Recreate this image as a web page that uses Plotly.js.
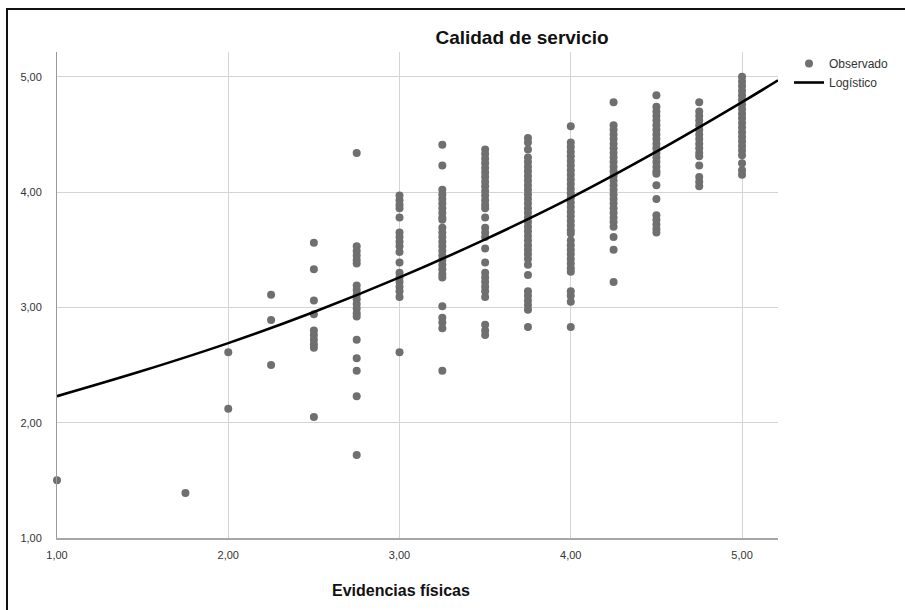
<!DOCTYPE html>
<html>
<head>
<meta charset="utf-8">
<script src="https://cdn.plot.ly/plotly-3.0.1.min.js"></script>
<style>
  html, body { margin: 0; padding: 0; background: #fff; overflow: hidden; }
  #wrap { position: relative; width: 905px; height: 610px; overflow: hidden; }
  #chart { position: absolute; left: 0; top: 0; width: 905px; height: 610px; }
  #frame { position: absolute; left: 6px; top: 8px; width: 1000px; height: 700px;
           border-left: 2px solid #111; border-top: 2px solid #111; pointer-events: none; }
</style>
</head>
<body>
<div id="wrap">
  <div id="chart"></div>
  <div id="frame"></div>
</div>
<script>
// Observed data: x columns (Evidencias físicas) and y values (Calidad de servicio)
const colX = [1.00, 1.75, 2.00, 2.25, 2.50, 2.75, 3.00, 3.25, 3.50, 3.75, 4.00, 4.25, 4.50, 4.75, 5.00];
const y100 = [1.50];
const y175 = [1.39];
const y200 = [2.61, 2.12];
const y225 = [3.11, 2.89, 2.50];
const y250 = [3.56, 3.33, 3.06, 2.94, 2.80, 2.76, 2.72, 2.68, 2.65, 2.05];
const y275 = [4.34, 3.53, 3.49, 3.45, 3.41, 3.38, 3.19, 3.15, 3.11, 3.07, 3.03, 2.99, 2.95, 2.92, 2.72, 2.56, 2.45, 2.23, 1.72];
const y300 = [3.97, 3.93, 3.89, 3.86, 3.78, 3.65, 3.61, 3.57, 3.53, 3.48, 3.39, 3.30, 3.26, 3.22, 3.18, 3.14, 3.09, 2.61];
const y325 = [4.41, 4.23, 4.02, 3.98, 3.94, 3.90, 3.86, 3.82, 3.78, 3.76, 3.69, 3.65, 3.61, 3.57, 3.53, 3.49, 3.45, 3.41, 3.37, 3.33, 3.29, 3.26, 3.01, 2.91, 2.87, 2.82, 2.45];
const y350 = [4.37, 4.33, 4.29, 4.25, 4.21, 4.17, 4.13, 4.09, 4.05, 4.01, 3.97, 3.93, 3.89, 3.86, 3.78, 3.69, 3.65, 3.61, 3.51, 3.39, 3.30, 3.26, 3.22, 3.18, 3.14, 3.09, 2.85, 2.80, 2.76];
const y375 = [4.47, 4.43, 4.37, 4.30, 4.26, 4.22, 4.18, 4.14, 4.10, 4.06, 4.02, 3.98, 3.94, 3.90, 3.86, 3.82, 3.78, 3.74, 3.70, 3.66, 3.62, 3.58, 3.54, 3.50, 3.46, 3.42, 3.37, 3.28, 3.14, 3.10, 3.06, 3.02, 2.98, 2.83];
const y400 = [4.57, 4.43, 4.39, 4.35, 4.31, 4.27, 4.23, 4.19, 4.15, 4.11, 4.07, 4.03, 3.99, 3.95, 3.91, 3.87, 3.83, 3.79, 3.75, 3.71, 3.67, 3.64, 3.58, 3.54, 3.50, 3.46, 3.42, 3.38, 3.34, 3.31, 3.14, 3.10, 3.05, 2.83];
const y425 = [4.78, 4.58, 4.54, 4.50, 4.46, 4.42, 4.38, 4.34, 4.30, 4.26, 4.22, 4.18, 4.14, 4.10, 4.06, 4.02, 3.98, 3.94, 3.90, 3.86, 3.82, 3.78, 3.74, 3.70, 3.61, 3.50, 3.22];
const y450 = [4.84, 4.74, 4.70, 4.66, 4.62, 4.58, 4.54, 4.50, 4.46, 4.42, 4.38, 4.34, 4.30, 4.26, 4.22, 4.18, 4.16, 4.06, 3.94, 3.80, 3.76, 3.72, 3.68, 3.65];
const y475 = [4.78, 4.70, 4.66, 4.62, 4.58, 4.54, 4.50, 4.46, 4.42, 4.38, 4.34, 4.31, 4.23, 4.13, 4.09, 4.05];
const y500 = [5.00, 4.96, 4.92, 4.88, 4.84, 4.80, 4.76, 4.72, 4.68, 4.64, 4.60, 4.56, 4.52, 4.48, 4.44, 4.40, 4.36, 4.32, 4.25, 4.19, 4.15];
const colY = [y100, y175, y200, y225, y250, y275, y300, y325, y350, y375, y400, y425, y450, y475, y500];

// Fitted logistic curve
const curveX = [1.00, 1.50, 2.00, 2.50, 3.00, 3.50, 4.00, 4.50, 5.00, 5.21];
const curveY = [2.23, 2.45, 2.69, 2.96, 3.26, 3.59, 3.95, 4.35, 4.78, 4.97];

const tickVals = [1, 2, 3, 4, 5];
const tickText = ['1,00', '2,00', '3,00', '4,00', '5,00'];

const chartTitle = 'Calidad de servicio';
const xTitle = 'Evidencias físicas';
const seriesNames = ['Observado', 'Logístico'];

const obsX = [], obsY = [];
colX.forEach((x, i) => colY[i].forEach(v => { obsX.push(x); obsY.push(v); }));

const FONT = '"Liberation Sans", Arial, sans-serif';

const traces = [
  {
    x: obsX, y: obsY, type: 'scatter', mode: 'markers', name: seriesNames[0],
    marker: { color: '#6f6f6f', size: 8 }, cliponaxis: false
  },
  {
    x: curveX, y: curveY, type: 'scatter', mode: 'lines', name: seriesNames[1],
    line: { color: '#000000', width: 2.6, shape: 'spline', smoothing: 1 }
  }
];

const layout = {
  width: 905, height: 610,
  margin: { l: 57, r: 127, t: 52, b: 72, autoexpand: false },
  paper_bgcolor: '#ffffff', plot_bgcolor: '#ffffff',
  font: { family: FONT, color: '#333333', size: 11 },
  showlegend: true,
  legend: {
    xref: 'container', yref: 'container',
    x: 789 / 905, xanchor: 'left', y: 1 - 49 / 610, yanchor: 'top',
    font: { family: FONT, size: 12, color: '#333333' },
    bgcolor: 'rgba(0,0,0,0)', tracegroupgap: 0, itemwidth: 30
  },
  title: {
    text: '<b>' + chartTitle + '</b>',
    font: { family: FONT, size: 19, color: '#111111' },
    xref: 'container', x: 522 / 905, xanchor: 'center',
    yref: 'container', y: 1 - 37 / 610, yanchor: 'middle'
  },
  xaxis: {
    range: [1, 5.21], tickvals: tickVals, ticktext: tickText,
    showgrid: true, gridcolor: '#d4d4d4', gridwidth: 1,
    zeroline: false, showline: true, linecolor: '#a6a6a6', linewidth: 2,
    ticks: '', ticklabelstandoff: 6,
    tickfont: { family: FONT, size: 11, color: '#333333' }
  },
  yaxis: {
    range: [1, 5.215], tickvals: tickVals, ticktext: tickText,
    showgrid: true, gridcolor: '#d4d4d4', gridwidth: 1,
    zeroline: false, showline: true, linecolor: '#9a9a9a', linewidth: 1,
    ticks: '', ticklabelstandoff: 12,
    tickfont: { family: FONT, size: 11, color: '#333333' }
  },
  annotations: [
    {
      text: '<b>' + xTitle + '</b>', xref: 'paper', yref: 'paper',
      x: (401 - 57) / 721, y: (538 - 590) / 486, xanchor: 'center', yanchor: 'middle',
      showarrow: false, font: { family: FONT, size: 16, color: '#111111' }
    }
  ]
};

Plotly.newPlot('chart', traces, layout, { staticPlot: true, displayModeBar: false });
</script>
</body>
</html>
